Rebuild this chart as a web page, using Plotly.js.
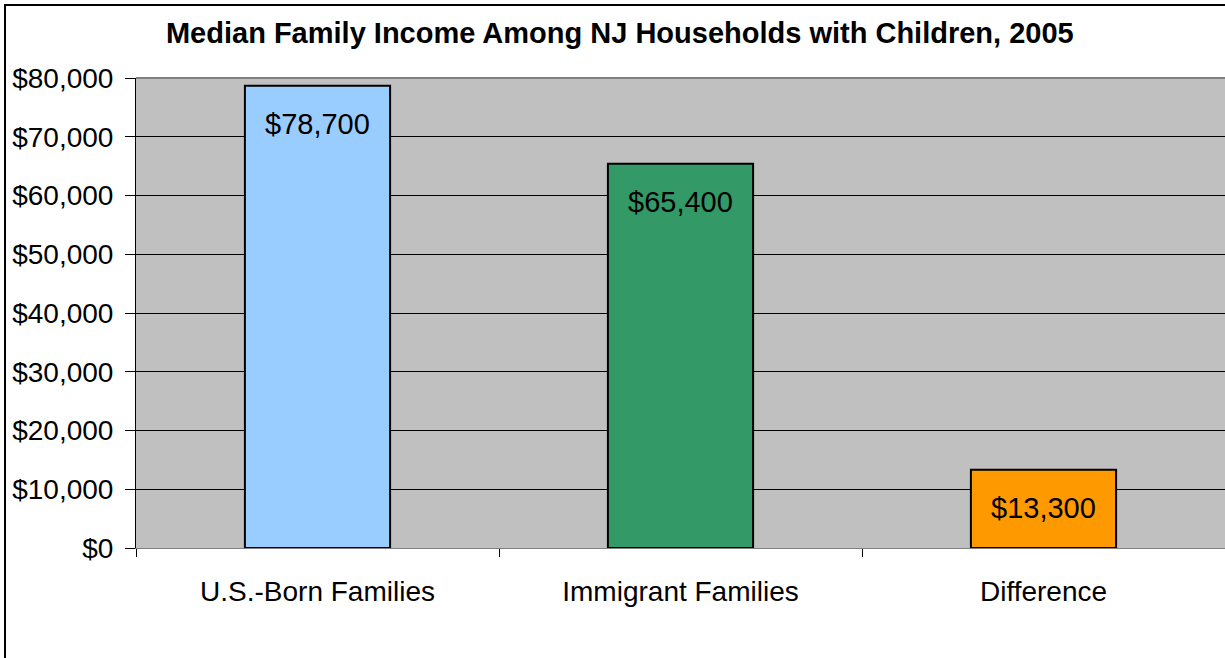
<!DOCTYPE html>
<html>
<head>
<meta charset="utf-8">
<script src="https://cdn.plot.ly/plotly-3.0.1.min.js"></script>
<style>
html,body{margin:0;padding:0;background:#fff;overflow:hidden;}
#chart{width:1225px;height:658px;position:relative;}
#frame{position:absolute;left:4px;top:4px;width:1300px;height:700px;border-left:2px solid #000;border-top:2px solid #000;pointer-events:none;}
</style>
</head>
<body>
<div id="chart"></div>
<div id="frame"></div>
<script>
const categories = ["U.S.-Born Families", "Immigrant Families", "Difference"];
const incomes = [78700, 65400, 13300];
const barColors = ["#99CCFF", "#339966", "#FF9900"];
const labels = ["$78,700", "$65,400", "$13,300"];
const yTickVals = [0, 10000, 20000, 30000, 40000, 50000, 60000, 70000, 80000];
const yTickText = ["$0", "$10,000", "$20,000", "$30,000", "$40,000", "$50,000", "$60,000", "$70,000", "$80,000"];

const FONT = "Arial, 'Liberation Sans', sans-serif";

const trace = {
  type: "bar",
  x: categories,
  y: incomes,
  width: 0.4,
  marker: { color: barColors, line: { color: "#000", width: 2 } },
  hoverinfo: "none"
};

const annotations = categories.map((c, i) => ({
  x: c, y: incomes[i], xref: "x", yref: "y",
  text: labels[i], showarrow: false,
  yanchor: "middle", yshift: -38,
  font: { family: FONT, size: 29, color: "#000" }
}));

const layout = {
  width: 1225, height: 658,
  margin: { l: 136, r: 0, t: 78, b: 110, pad: 0 },
  paper_bgcolor: "#fff",
  plot_bgcolor: "#C0C0C0",
  showlegend: false,
  title: {
    text: "<b>Median Family Income Among NJ Households with Children, 2005</b>",
    x: 0.506, xref: "container", xanchor: "center",
    y: 1 - 33/658, yref: "container", yanchor: "middle",
    font: { family: FONT, size: 29, color: "#000" }
  },
  xaxis: {
    type: "category",
    tickson: "boundaries",
    ticks: "outside", ticklen: 8, tickcolor: "#000", tickwidth: 1,
    showline: true, linecolor: "#808080", linewidth: 1,
    showgrid: false, zeroline: false,
    tickfont: { family: FONT, size: 28, color: "#000" },
    ticklabelstandoff: 18,
    fixedrange: true
  },
  yaxis: {
    range: [0, 80000],
    tickmode: "array",
    tickvals: yTickVals,
    ticktext: yTickText,
    ticks: "outside", ticklen: 10, tickcolor: "#000", tickwidth: 1,
    showline: true, linecolor: "#000", linewidth: 1,
    showgrid: true, gridcolor: "#000", gridwidth: 1,
    zeroline: false,
    tickfont: { family: FONT, size: 28, color: "#000" },
    ticklabelstandoff: 6,
    fixedrange: true
  },
  shapes: [
    { type: "line", xref: "paper", yref: "paper", x0: 0, x1: 1, y0: 1, y1: 1,
      line: { color: "#808080", width: 2 } }
  ],
  annotations: annotations
};

Plotly.newPlot("chart", [trace], layout, { displayModeBar: false, staticPlot: true });
</script>
</body>
</html>
